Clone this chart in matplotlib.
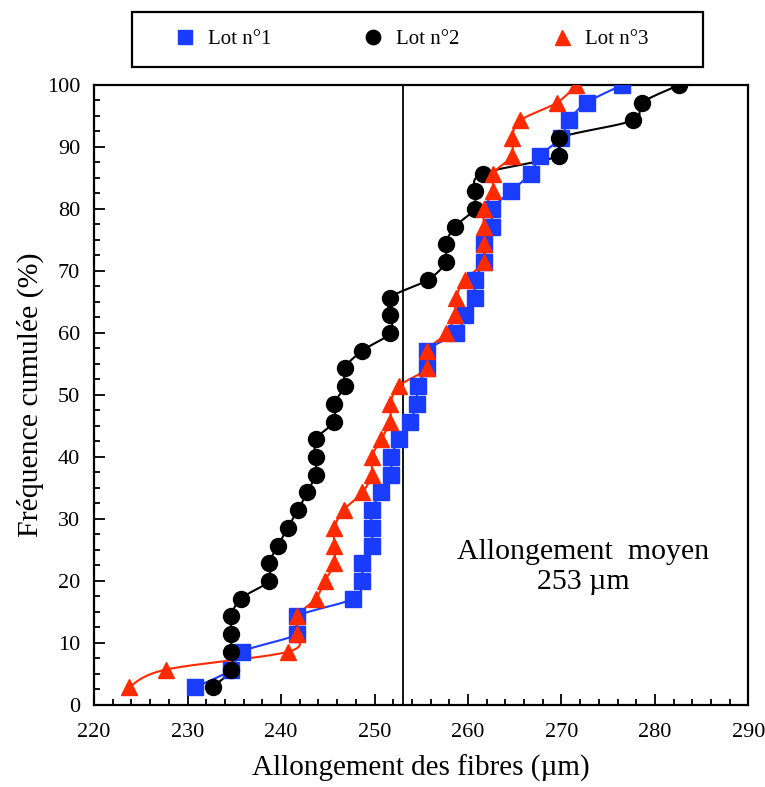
import numpy as np
import matplotlib
matplotlib.use("Agg")
import matplotlib.pyplot as plt
from matplotlib.ticker import MultipleLocator
from matplotlib.patches import Rectangle

plt.rcParams['font.family'] = ['Liberation Serif', 'DejaVu Serif']

# ---- data ----
n_points = 35
freq = [100.0 * k / n_points for k in range(1, n_points + 1)]

lot1_x = [230.8, 234.7, 235.8, 241.7, 241.7, 247.7, 248.7, 248.7, 249.7, 249.7,
          249.7, 250.7, 251.8, 251.8, 252.6, 253.8, 254.5, 254.6, 255.6, 255.6,
          258.7, 259.7, 260.7, 260.7, 261.7, 261.7, 262.6, 262.6, 264.6, 266.7,
          267.7, 269.9, 270.8, 272.7, 276.5]
lot2_x = [232.7, 234.7, 234.7, 234.7, 234.7, 235.7, 238.7, 238.7, 239.7, 240.7,
          241.8, 242.8, 243.7, 243.7, 243.7, 245.7, 245.7, 246.8, 246.8, 248.7,
          251.7, 251.7, 251.7, 255.7, 257.6, 257.6, 258.6, 260.7, 260.7, 261.6,
          269.7, 269.7, 277.6, 278.6, 282.6]
lot3_x = [223.7, 227.7, 240.7, 241.7, 241.7, 243.7, 244.7, 245.7, 245.7, 245.7,
          246.7, 248.7, 249.7, 249.7, 250.7, 251.7, 251.7, 252.6, 255.6, 255.6,
          257.7, 258.6, 258.7, 259.7, 261.7, 261.7, 261.7, 261.7, 262.7, 262.7,
          264.7, 264.7, 265.6, 269.5, 271.6]
labels = ["Lot n°1", "Lot n°2", "Lot n°3"]
mean_length = 253
annotation = "Allongement  moyen\n253 µm"
xlabel = "Allongement des fibres (µm)"
ylabel = "Fréquence cumulée (%)"

colors = ["#1a3cff", "#000000", "#ff2a00"]
markers = ["s", "o", "^"]
msizes = [11, 11.5, 12]

XMIN, XMAX, YMIN, YMAX = 220, 290, 0, 100


def smooth(x, y, sx, sy, nseg=20):
    """Catmull-Rom smoothing of the connecting line, computed in display-like scale."""
    P = np.column_stack([np.asarray(x) * sx, np.asarray(y) * sy])
    P = np.vstack([P[0], P, P[-1]])
    out = []
    t = np.linspace(0, 1, nseg, endpoint=False)[:, None]
    for i in range(1, len(P) - 2):
        p0, p1, p2, p3 = P[i - 1], P[i], P[i + 1], P[i + 2]
        c1 = p1 + (p2 - p0) / 6.0
        c2 = p2 - (p3 - p1) / 6.0
        seg = ((1 - t) ** 3) * p1 + 3 * ((1 - t) ** 2) * t * c1 + 3 * (1 - t) * t ** 2 * c2 + t ** 3 * p2
        out.append(seg)
    out.append(P[-2][None, :])
    out = np.vstack(out)
    return out[:, 0] / sx, out[:, 1] / sy


fig = plt.figure(figsize=(7.65, 7.87), dpi=100)
ax = fig.add_axes([0.1229, 0.1042, 0.8555, 0.7878])

sx = 9.35
sy = 6.2
for xs, c, m, ms, lab in zip([lot1_x, lot2_x, lot3_x], colors, markers, msizes, labels):
    lx, ly = smooth(xs, freq, sx, sy)
    ax.plot(lx, ly, color=c, lw=1.5, zorder=2)
    ax.plot(xs, freq, linestyle='none', marker=m, ms=ms, color=c,
            markeredgecolor=c, label=lab, zorder=3)

ax.axvline(mean_length, color='black', lw=1.3, zorder=1)

ax.set_xlim(XMIN, XMAX)
ax.set_ylim(YMIN, YMAX)
ax.xaxis.set_major_locator(MultipleLocator(10))
ax.xaxis.set_minor_locator(MultipleLocator(2))
ax.yaxis.set_major_locator(MultipleLocator(10))
ax.yaxis.set_minor_locator(MultipleLocator(2.5))
ax.tick_params(which='both', direction='in', top=False, right=False, width=1.3,
               labelsize=16)
ax.tick_params(which='major', length=8)
ax.tick_params(which='minor', length=4.5)
ax.tick_params(axis='x', which='major', pad=13)
ax.tick_params(axis='y', which='major', pad=10)
for sp in ax.spines.values():
    sp.set_linewidth(1.6)

ax.set_xlabel(xlabel, fontsize=21, labelpad=9)
ax.set_ylabel(ylabel, fontsize=21.5, labelpad=2)

ax.text(0.748, 0.223, annotation, transform=ax.transAxes, ha='center', va='center',
        fontsize=21.5, linespacing=1.2)

box = (0.1725, 0.9149, 0.7464, 0.0699)
fig.patches.append(Rectangle((box[0], box[1]), box[2], box[3], transform=fig.transFigure,
                             fill=False, edgecolor='black', lw=1.6))
leg = fig.legend(loc='center', bbox_to_anchor=(box[0] + box[2] / 2 - 0.008, box[1] + box[3] / 2),
                 ncol=3, fontsize=15, frameon=False, markerscale=0.9,
                 handletextpad=0.6, handlelength=1.0, columnspacing=4.4,
                 borderpad=0, borderaxespad=0)

fig.savefig("out.png", dpi=100)
